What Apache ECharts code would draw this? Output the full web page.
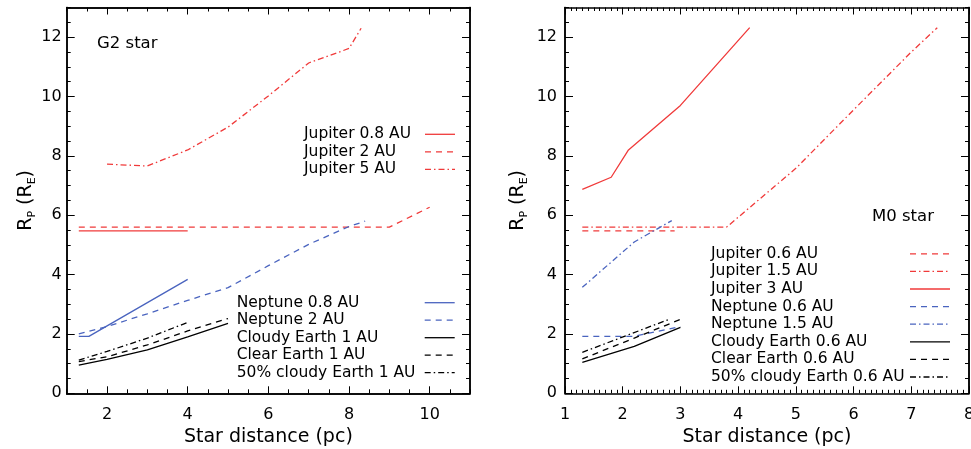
<!DOCTYPE html>
<html><head><meta charset="utf-8">
<script src="https://cdn.jsdelivr.net/npm/echarts@6/dist/echarts.min.js"></script>
<style>html,body{margin:0;padding:0;background:#fff}#c{width:971px;height:449px}</style>
</head><body><div id="c"></div>
<script>
const FONT = 'DejaVu Sans';

// tick labels
const G2_X_TICKS = [2, 4, 6, 8, 10];
const M0_X_TICKS = [1, 2, 3, 4, 5, 6, 7, 8];
const Y_TICKS = [0, 2, 4, 6, 8, 10, 12];

// series names (legend entries)
const G2_JUP_NAMES = ['Jupiter 0.8 AU', 'Jupiter 2 AU', 'Jupiter 5 AU'];
const G2_OTHER_NAMES = ['Neptune 0.8 AU', 'Neptune 2 AU', 'Cloudy Earth 1 AU', 'Clear Earth 1 AU', '50% cloudy Earth 1 AU'];
const M0_NAMES = ['Jupiter 0.6 AU', 'Jupiter 1.5 AU', 'Jupiter 3 AU', 'Neptune 0.6 AU', 'Neptune 1.5 AU',
                  'Cloudy Earth 0.6 AU', 'Clear Earth 0.6 AU', '50% cloudy Earth 0.6 AU'];

// G2 star data [distance pc, Rp]
const g2Jup08 = [[1.3, 5.47], [4.0, 5.47]];
const g2Jup2 = [[1.3, 5.6], [9.0, 5.6], [10.0, 6.27]];
const g2Jup5 = [[2, 7.72], [3, 7.66], [4, 8.2], [5, 8.97], [6, 10.02], [7, 11.13], [8, 11.62], [8.3, 12.3]];
const g2Nep08 = [[1.3, 1.92], [1.55, 1.92], [4.0, 3.84]];
const g2Nep2 = [[1.3, 2.0], [2, 2.25], [3, 2.68], [4, 3.13], [5, 3.56], [6, 4.3], [7, 5.02], [8, 5.62], [8.4, 5.8]];
const g2Cloudy = [[1.3, 0.95], [2, 1.14], [3, 1.46], [4, 1.9], [5, 2.36]];
const g2Clear = [[1.3, 1.07], [2, 1.23], [3, 1.63], [4, 2.1], [5, 2.52]];
const g2Half = [[1.3, 1.12], [2, 1.41], [3, 1.86], [4, 2.39]];

// M0 star data
const m0Jup06 = [[1.3, 5.47], [2.9, 5.47]];
const m0Jup15 = [[1.3, 5.6], [3.8, 5.6], [5, 7.58], [6, 9.55], [7, 11.5], [7.45, 12.32]];
const m0Jup3 = [[1.3, 6.87], [1.8, 7.28], [2.1, 8.2], [3, 9.7], [4.2, 12.32]];
const m0Nep06 = [[1.3, 1.92], [2.2, 1.92], [3, 2.25]];
const m0Nep15 = [[1.3, 3.57], [2.2, 5.1], [2.85, 5.82]];
const m0Cloudy = [[1.3, 1.04], [2.2, 1.58], [3, 2.22]];
const m0Clear = [[1.3, 1.16], [2.2, 1.86], [3, 2.49]];
const m0Half = [[1.3, 1.38], [2.8, 2.49]];

const RED = '#f03a3a', BLUE = '#4a64bf', BLACK = '#000000';
const SOLID = 'solid', DASH = [6, 5], DASHDOT = [6, 3, 1.5, 3];

function mkLine(name, data, color, dash, panel) {
  return {
    name, type: 'line', data,
    xAxisIndex: panel ? 4 : 0, yAxisIndex: panel ? 4 : 0,
    symbol: 'none', showSymbol: false, silent: true, animation: false,
    lineStyle: { color, width: 1.3, type: dash },
    itemStyle: { color }
  };
}

const series = [
  mkLine(G2_JUP_NAMES[0], g2Jup08, RED, SOLID, 0),
  mkLine(G2_JUP_NAMES[1], g2Jup2, RED, DASH, 0),
  mkLine(G2_JUP_NAMES[2], g2Jup5, RED, DASHDOT, 0),
  mkLine(G2_OTHER_NAMES[0], g2Nep08, BLUE, SOLID, 0),
  mkLine(G2_OTHER_NAMES[1], g2Nep2, BLUE, DASH, 0),
  mkLine(G2_OTHER_NAMES[2], g2Cloudy, BLACK, SOLID, 0),
  mkLine(G2_OTHER_NAMES[3], g2Clear, BLACK, DASH, 0),
  mkLine(G2_OTHER_NAMES[4], g2Half, BLACK, DASHDOT, 0),
  mkLine(M0_NAMES[0], m0Jup06, RED, DASH, 1),
  mkLine(M0_NAMES[1], m0Jup15, RED, DASHDOT, 1),
  mkLine(M0_NAMES[2], m0Jup3, RED, SOLID, 1),
  mkLine(M0_NAMES[3], m0Nep06, BLUE, DASH, 1),
  mkLine(M0_NAMES[4], m0Nep15, BLUE, DASHDOT, 1),
  mkLine(M0_NAMES[5], m0Cloudy, BLACK, SOLID, 1),
  mkLine(M0_NAMES[6], m0Clear, BLACK, DASH, 1),
  mkLine(M0_NAMES[7], m0Half, BLACK, DASHDOT, 1)
];

const axisLineStyle = { show: true, onZero: false, lineStyle: { color: '#000', width: 1.5 } };
const labelStyle = { fontFamily: FONT, fontSize: 16, color: '#000' };
function ax(o) {
  return Object.assign({
    type: 'value', splitLine: { show: false }, axisLine: axisLineStyle,
    axisLabel: { show: false }, axisTick: { show: false }, minorTick: { show: false },
    nameMoveOverlap: false, silent: true
  }, o);
}
const minorTick = { show: true, inside: true, length: 4, lineStyle: { color: '#000', width: 1 } };
function majorTick(vals, len) {
  return { show: true, inside: true, length: len, customValues: vals, lineStyle: { color: '#000', width: 1 } };
}
function fmt(vals) { return v => (vals.indexOf(v) >= 0 ? String(v) : ''); }

const xName = { name: 'Star distance (pc)', nameLocation: 'middle', nameGap: 34,
  nameTextStyle: { fontFamily: FONT, fontSize: 19, color: '#000' } };
function yName(gap) {
  return {
    name: '{a|R}{s|P}{a| (R}{s|E}{a|)}', nameLocation: 'middle', nameRotate: 90, nameGap: gap,
    nameTextStyle: {
      fontFamily: FONT, color: '#000', fontSize: 19,
      rich: {
        a: { fontFamily: FONT, fontSize: 19, color: '#000', lineHeight: 24 },
        s: { fontFamily: FONT, fontSize: 11, color: '#000', verticalAlign: 'bottom' }
      }
    }
  };
}

const xAxis = [
  ax(Object.assign({ gridIndex: 0, position: 'bottom', min: 1, max: 11, interval: 0.5, axisTick: minorTick,
    axisLabel: Object.assign({ show: true, margin: 14, customValues: G2_X_TICKS, formatter: fmt(G2_X_TICKS) }, labelStyle) }, xName)),
  ax({ gridIndex: 0, position: 'bottom', min: 1, max: 11, axisTick: majorTick(G2_X_TICKS, 7) }),
  ax({ gridIndex: 0, position: 'top', min: 1, max: 11, interval: 0.5, axisTick: minorTick }),
  ax({ gridIndex: 0, position: 'top', min: 1, max: 11, axisTick: majorTick(G2_X_TICKS, 7) }),
  ax(Object.assign({ gridIndex: 1, position: 'bottom', min: 1, max: 8, interval: 1,
    axisTick: { show: true, inside: true, length: 7, lineStyle: { color: '#000', width: 1 } },
    minorTick: { show: true, splitNumber: 10, length: 3.5, lineStyle: { color: '#000', width: 1 } },
    axisLabel: Object.assign({ show: true, margin: 14, showMinLabel: true, showMaxLabel: true,
      customValues: M0_X_TICKS }, labelStyle) }, xName)),
  ax({ gridIndex: 1, position: 'top', min: 1, max: 8, interval: 1,
    axisTick: { show: true, inside: true, length: 7, lineStyle: { color: '#000', width: 1 } },
    minorTick: { show: true, splitNumber: 10, length: 3.5, lineStyle: { color: '#000', width: 1 } } })
];

const yAxis = [
  ax(Object.assign({ gridIndex: 0, position: 'left', min: 0, max: 13, interval: 0.5, axisTick: minorTick,
    axisLabel: Object.assign({ show: true, margin: 5, customValues: Y_TICKS, formatter: fmt(Y_TICKS) }, labelStyle) }, yName(29))),
  ax({ gridIndex: 0, position: 'left', min: 0, max: 13, axisTick: majorTick(Y_TICKS, 8) }),
  ax({ gridIndex: 0, position: 'right', min: 0, max: 13, interval: 0.5, axisTick: minorTick }),
  ax({ gridIndex: 0, position: 'right', min: 0, max: 13, axisTick: majorTick(Y_TICKS, 8) }),
  ax(Object.assign({ gridIndex: 1, position: 'left', min: 0, max: 13, interval: 0.5, axisTick: minorTick,
    axisLabel: Object.assign({ show: true, margin: 8, customValues: Y_TICKS, formatter: fmt(Y_TICKS) }, labelStyle) }, yName(35))),
  ax({ gridIndex: 1, position: 'left', min: 0, max: 13, axisTick: majorTick(Y_TICKS, 8) }),
  ax({ gridIndex: 1, position: 'right', min: 0, max: 13, interval: 0.5, axisTick: minorTick }),
  ax({ gridIndex: 1, position: 'right', min: 0, max: 13, axisTick: majorTick(Y_TICKS, 8) })
];

function mkLegend(data, left, top, textW, iconW, gap) {
  return {
    data, orient: 'vertical', align: 'right', left, top, padding: 0, itemGap: gap,
    itemWidth: iconW, itemHeight: 10, selectedMode: false,
    itemStyle: { opacity: 0 }, lineStyle: { width: 1.3 },
    textStyle: { fontFamily: FONT, fontSize: 15.5, color: '#000',
      rich: { t: { width: textW, align: 'left', fontFamily: FONT, fontSize: 15.5, color: '#000' } } },
    formatter: n => '{t|' + n + '}'
  };
}

const option = {
  backgroundColor: '#fff',
  animation: false,
  grid: [
    { left: 66.7, right: 501, top: 7.5, bottom: 55.7, containLabel: false, outerBoundsMode: 'none' },
    { left: 565, right: 2, top: 7.5, bottom: 55.7, containLabel: false, outerBoundsMode: 'none' }
  ],
  title: [
    { text: 'G2 star', left: 97, top: 35, padding: 0,
      textStyle: { fontFamily: FONT, fontSize: 16.5, fontWeight: 'normal', color: '#000', lineHeight: 18 } },
    { text: 'M0 star', left: 872, top: 208, padding: 0,
      textStyle: { fontFamily: FONT, fontSize: 16.5, fontWeight: 'normal', color: '#000', lineHeight: 18 } }
  ],
  legend: [
    mkLegend(G2_JUP_NAMES, 304, 126.3, 116, 30, 1.5),
    mkLegend(G2_OTHER_NAMES, 236.7, 294.7, 183, 30, 1.5),
    mkLegend(M0_NAMES, 711, 245.8, 194, 40, 1.6)
  ],
  xAxis, yAxis, series
};

const chart = echarts.init(document.getElementById('c'), null, { renderer: 'canvas' });
chart.setOption(option);
</script>
</body></html>
